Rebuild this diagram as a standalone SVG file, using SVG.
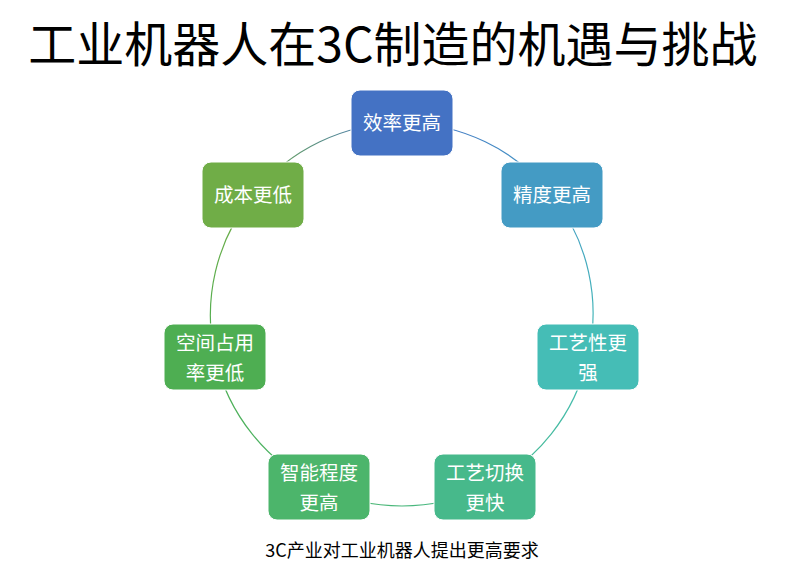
<svg xmlns="http://www.w3.org/2000/svg" width="800" height="582" viewBox="0 0 800 582">
<style>
.t{font-family:"Noto Sans CJK SC","Liberation Sans",sans-serif;}
.title{font-size:48px;fill:#000;}
.cap{font-size:18px;fill:#000;}
.lbl{font-size:19.5px;fill:#fff;text-anchor:middle;}
.box{stroke:#fff;stroke-width:1;}
.seg{fill:none;stroke-width:1.2;}
</style>
<defs>
<linearGradient id="g1" gradientUnits="userSpaceOnUse" x1="402" y1="123" x2="552" y2="195"><stop offset="0" stop-color="#4472C4"/><stop offset="1" stop-color="#449BC4"/></linearGradient>
<linearGradient id="g2" gradientUnits="userSpaceOnUse" x1="552" y1="195" x2="588" y2="357"><stop offset="0" stop-color="#449BC4"/><stop offset="1" stop-color="#45BDB6"/></linearGradient>
<linearGradient id="g3" gradientUnits="userSpaceOnUse" x1="588" y1="357" x2="485" y2="487"><stop offset="0" stop-color="#45BDB6"/><stop offset="1" stop-color="#47B98B"/></linearGradient>
<linearGradient id="g4" gradientUnits="userSpaceOnUse" x1="485" y1="487" x2="319" y2="487"><stop offset="0" stop-color="#47B98B"/><stop offset="1" stop-color="#4CB56B"/></linearGradient>
<linearGradient id="g5" gradientUnits="userSpaceOnUse" x1="319" y1="487" x2="215" y2="357"><stop offset="0" stop-color="#4CB56B"/><stop offset="1" stop-color="#4EAE52"/></linearGradient>
<linearGradient id="g6" gradientUnits="userSpaceOnUse" x1="215" y1="357" x2="253" y2="195"><stop offset="0" stop-color="#4EAE52"/><stop offset="1" stop-color="#70AD47"/></linearGradient>
<linearGradient id="g7" gradientUnits="userSpaceOnUse" x1="253" y1="195" x2="402" y2="123"><stop offset="0" stop-color="#70AD47"/><stop offset="1" stop-color="#4472C4"/></linearGradient>
</defs>
<text class="t title" x="393" y="62" text-anchor="middle">工业机器人在3C制造的机遇与挑战</text>
<g id="connectors">
<path class="seg" stroke="url(#g1)" d="M402,123 A191,191 0 0 1 552,195"/>
<path class="seg" stroke="url(#g2)" d="M552,195 A191,191 0 0 1 588,357"/>
<path class="seg" stroke="url(#g3)" d="M588,357 A191,191 0 0 1 485,487"/>
<path class="seg" stroke="url(#g4)" d="M485,487 A191,191 0 0 1 319,487"/>
<path class="seg" stroke="url(#g5)" d="M319,487 A191,191 0 0 1 215,357"/>
<path class="seg" stroke="url(#g6)" d="M215,357 A191,191 0 0 1 253,195"/>
<path class="seg" stroke="url(#g7)" d="M253,195 A191,191 0 0 1 402,123"/>
</g>
<g id="n1"><rect class="box" x="351" y="90" width="102" height="66" rx="9" fill="#4472C4"/><text class="t lbl" x="402" y="130">效率更高</text></g>
<g id="n2"><rect class="box" x="501" y="162" width="102" height="66" rx="9" fill="#449BC4"/><text class="t lbl" x="552" y="202">精度更高</text></g>
<g id="n3"><rect class="box" x="537" y="324" width="102" height="66" rx="9" fill="#45BDB6"/><text class="t lbl" x="588" y="350">工艺性更</text><text class="t lbl" x="588" y="380">强</text></g>
<g id="n4"><rect class="box" x="434" y="454" width="102" height="66" rx="9" fill="#47B98B"/><text class="t lbl" x="485" y="480">工艺切换</text><text class="t lbl" x="485" y="510">更快</text></g>
<g id="n5"><rect class="box" x="268" y="454" width="102" height="66" rx="9" fill="#4CB56B"/><text class="t lbl" x="319" y="480">智能程度</text><text class="t lbl" x="319" y="510">更高</text></g>
<g id="n6"><rect class="box" x="164" y="324" width="102" height="66" rx="9" fill="#4EAE52"/><text class="t lbl" x="215" y="350">空间占用</text><text class="t lbl" x="215" y="380">率更低</text></g>
<g id="n7"><rect class="box" x="202" y="162" width="102" height="66" rx="9" fill="#70AD47"/><text class="t lbl" x="253" y="202">成本更低</text></g>
<text class="t cap" x="402" y="557" text-anchor="middle">3C产业对工业机器人提出更高要求</text>
</svg>
